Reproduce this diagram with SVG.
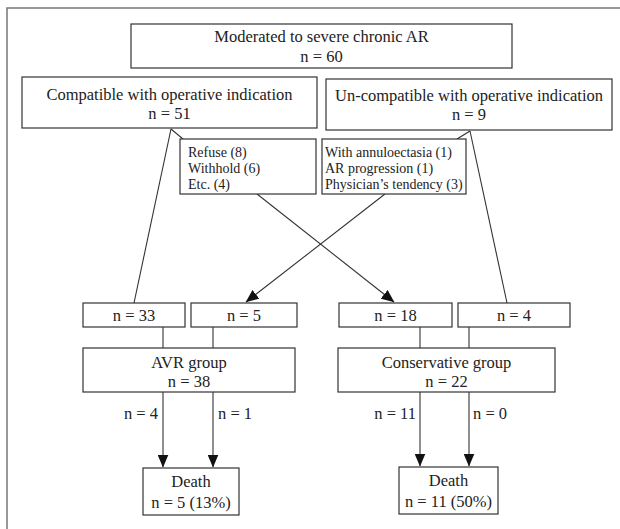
<svg xmlns="http://www.w3.org/2000/svg" width="620" height="529" viewBox="0 0 620 529">
<style>
.box{fill:#fff;stroke:#333;stroke-width:1.2}
.t{font-family:"Liberation Serif","Times New Roman",serif;font-size:16.5px;fill:#222;text-anchor:middle}
.s{font-family:"Liberation Serif","Times New Roman",serif;font-size:14px;fill:#222}
.ln{stroke:#333;stroke-width:1.1;fill:none}
.lbl{font-family:"Liberation Serif","Times New Roman",serif;font-size:16.5px;fill:#222}
</style>
<defs>
<marker id="ah" markerUnits="userSpaceOnUse" markerWidth="13" markerHeight="11" viewBox="0 0 13 11" refX="12.5" refY="5.5" orient="auto">
<path d="M0,0 L13,5.5 L0,11 z" fill="#111"/>
</marker>
</defs>
<rect x="0" y="0" width="620" height="529" fill="#fff"/>
<path d="M7,535 V8 H630" fill="none" stroke="#777" stroke-width="1.5"/>
<g id="connectors">
<line class="ln" x1="171" y1="129" x2="134" y2="303"/>
<line class="ln" x1="171" y1="129" x2="183" y2="139"/>
<line class="ln" x1="470" y1="131" x2="507" y2="303"/>
<line class="ln" x1="470" y1="131" x2="457" y2="139"/>
<line class="ln" x1="257" y1="194" x2="394" y2="302" marker-end="url(#ah)"/>
<line class="ln" x1="385" y1="194" x2="246" y2="302" marker-end="url(#ah)"/>
<line class="ln" x1="163" y1="327" x2="163" y2="348"/>
<line class="ln" x1="213" y1="327" x2="213" y2="348"/>
<line class="ln" x1="420" y1="327" x2="420" y2="348"/>
<line class="ln" x1="469" y1="327" x2="469" y2="348"/>
<line class="ln" x1="163" y1="392" x2="163" y2="467" marker-end="url(#ah)"/>
<line class="ln" x1="213" y1="392" x2="213" y2="467" marker-end="url(#ah)"/>
<line class="ln" x1="420" y1="392" x2="420" y2="466" marker-end="url(#ah)"/>
<line class="ln" x1="469" y1="392" x2="469" y2="466" marker-end="url(#ah)"/>
<text class="lbl" x="158" y="419" text-anchor="end">n = 4</text>
<text class="lbl" x="218" y="419">n = 1</text>
<text class="lbl" x="416" y="419" text-anchor="end">n = 11</text>
<text class="lbl" x="473" y="419">n = 0</text>
</g>
<g id="top">
<rect class="box" x="131" y="24" width="381" height="44"/>
<text class="t" x="321.5" y="42">Moderated to severe chronic AR</text>
<text class="t" x="321.5" y="62">n = 60</text>
</g>
<g id="compatible">
<rect class="box" x="22" y="77" width="295" height="51"/>
<text class="t" x="169.5" y="100">Compatible with operative indication</text>
<text class="t" x="169.5" y="119">n = 51</text>
</g>
<g id="uncompatible">
<rect class="box" x="326" y="79" width="286" height="51"/>
<text class="t" x="469" y="101">Un-compatible with operative indication</text>
<text class="t" x="469" y="120">n = 9</text>
</g>
<g id="refuse">
<rect class="box" x="180" y="139" width="136" height="55"/>
<text class="s" x="188" y="157">Refuse (8)</text>
<text class="s" x="188" y="173">Withhold (6)</text>
<text class="s" x="188" y="189">Etc. (4)</text>
</g>
<g id="annulo">
<rect class="box" x="322" y="139" width="144" height="55"/>
<text class="s" x="325" y="157">With annuloectasia (1)</text>
<text class="s" x="325" y="173">AR progression (1)</text>
<text class="s" x="325" y="189">Physician’s tendency (3)</text>
</g>
<g id="n33">
<rect class="box" x="83" y="303" width="102" height="24"/>
<text class="t" x="134" y="321">n = 33</text>
</g>
<g id="n5">
<rect class="box" x="191" y="303" width="106" height="24"/>
<text class="t" x="244" y="321">n = 5</text>
</g>
<g id="n18">
<rect class="box" x="339" y="303" width="113" height="24"/>
<text class="t" x="395.5" y="321">n = 18</text>
</g>
<g id="n4">
<rect class="box" x="458" y="303" width="112" height="24"/>
<text class="t" x="514" y="321">n = 4</text>
</g>
<g id="avr">
<rect class="box" x="83" y="348" width="212" height="44"/>
<text class="t" x="189" y="368">AVR group</text>
<text class="t" x="189" y="387">n = 38</text>
</g>
<g id="conservative">
<rect class="box" x="338" y="348" width="217" height="44"/>
<text class="t" x="446.5" y="368">Conservative group</text>
<text class="t" x="446.5" y="387">n = 22</text>
</g>
<g id="death1">
<rect class="box" x="143" y="468" width="96" height="47"/>
<text class="t" x="191" y="487">Death</text>
<text class="t" x="191" y="508">n = 5 (13%)</text>
</g>
<g id="death2">
<rect class="box" x="399" y="467" width="99" height="47"/>
<text class="t" x="448.5" y="486">Death</text>
<text class="t" x="448.5" y="507">n = 11 (50%)</text>
</g>
</svg>
